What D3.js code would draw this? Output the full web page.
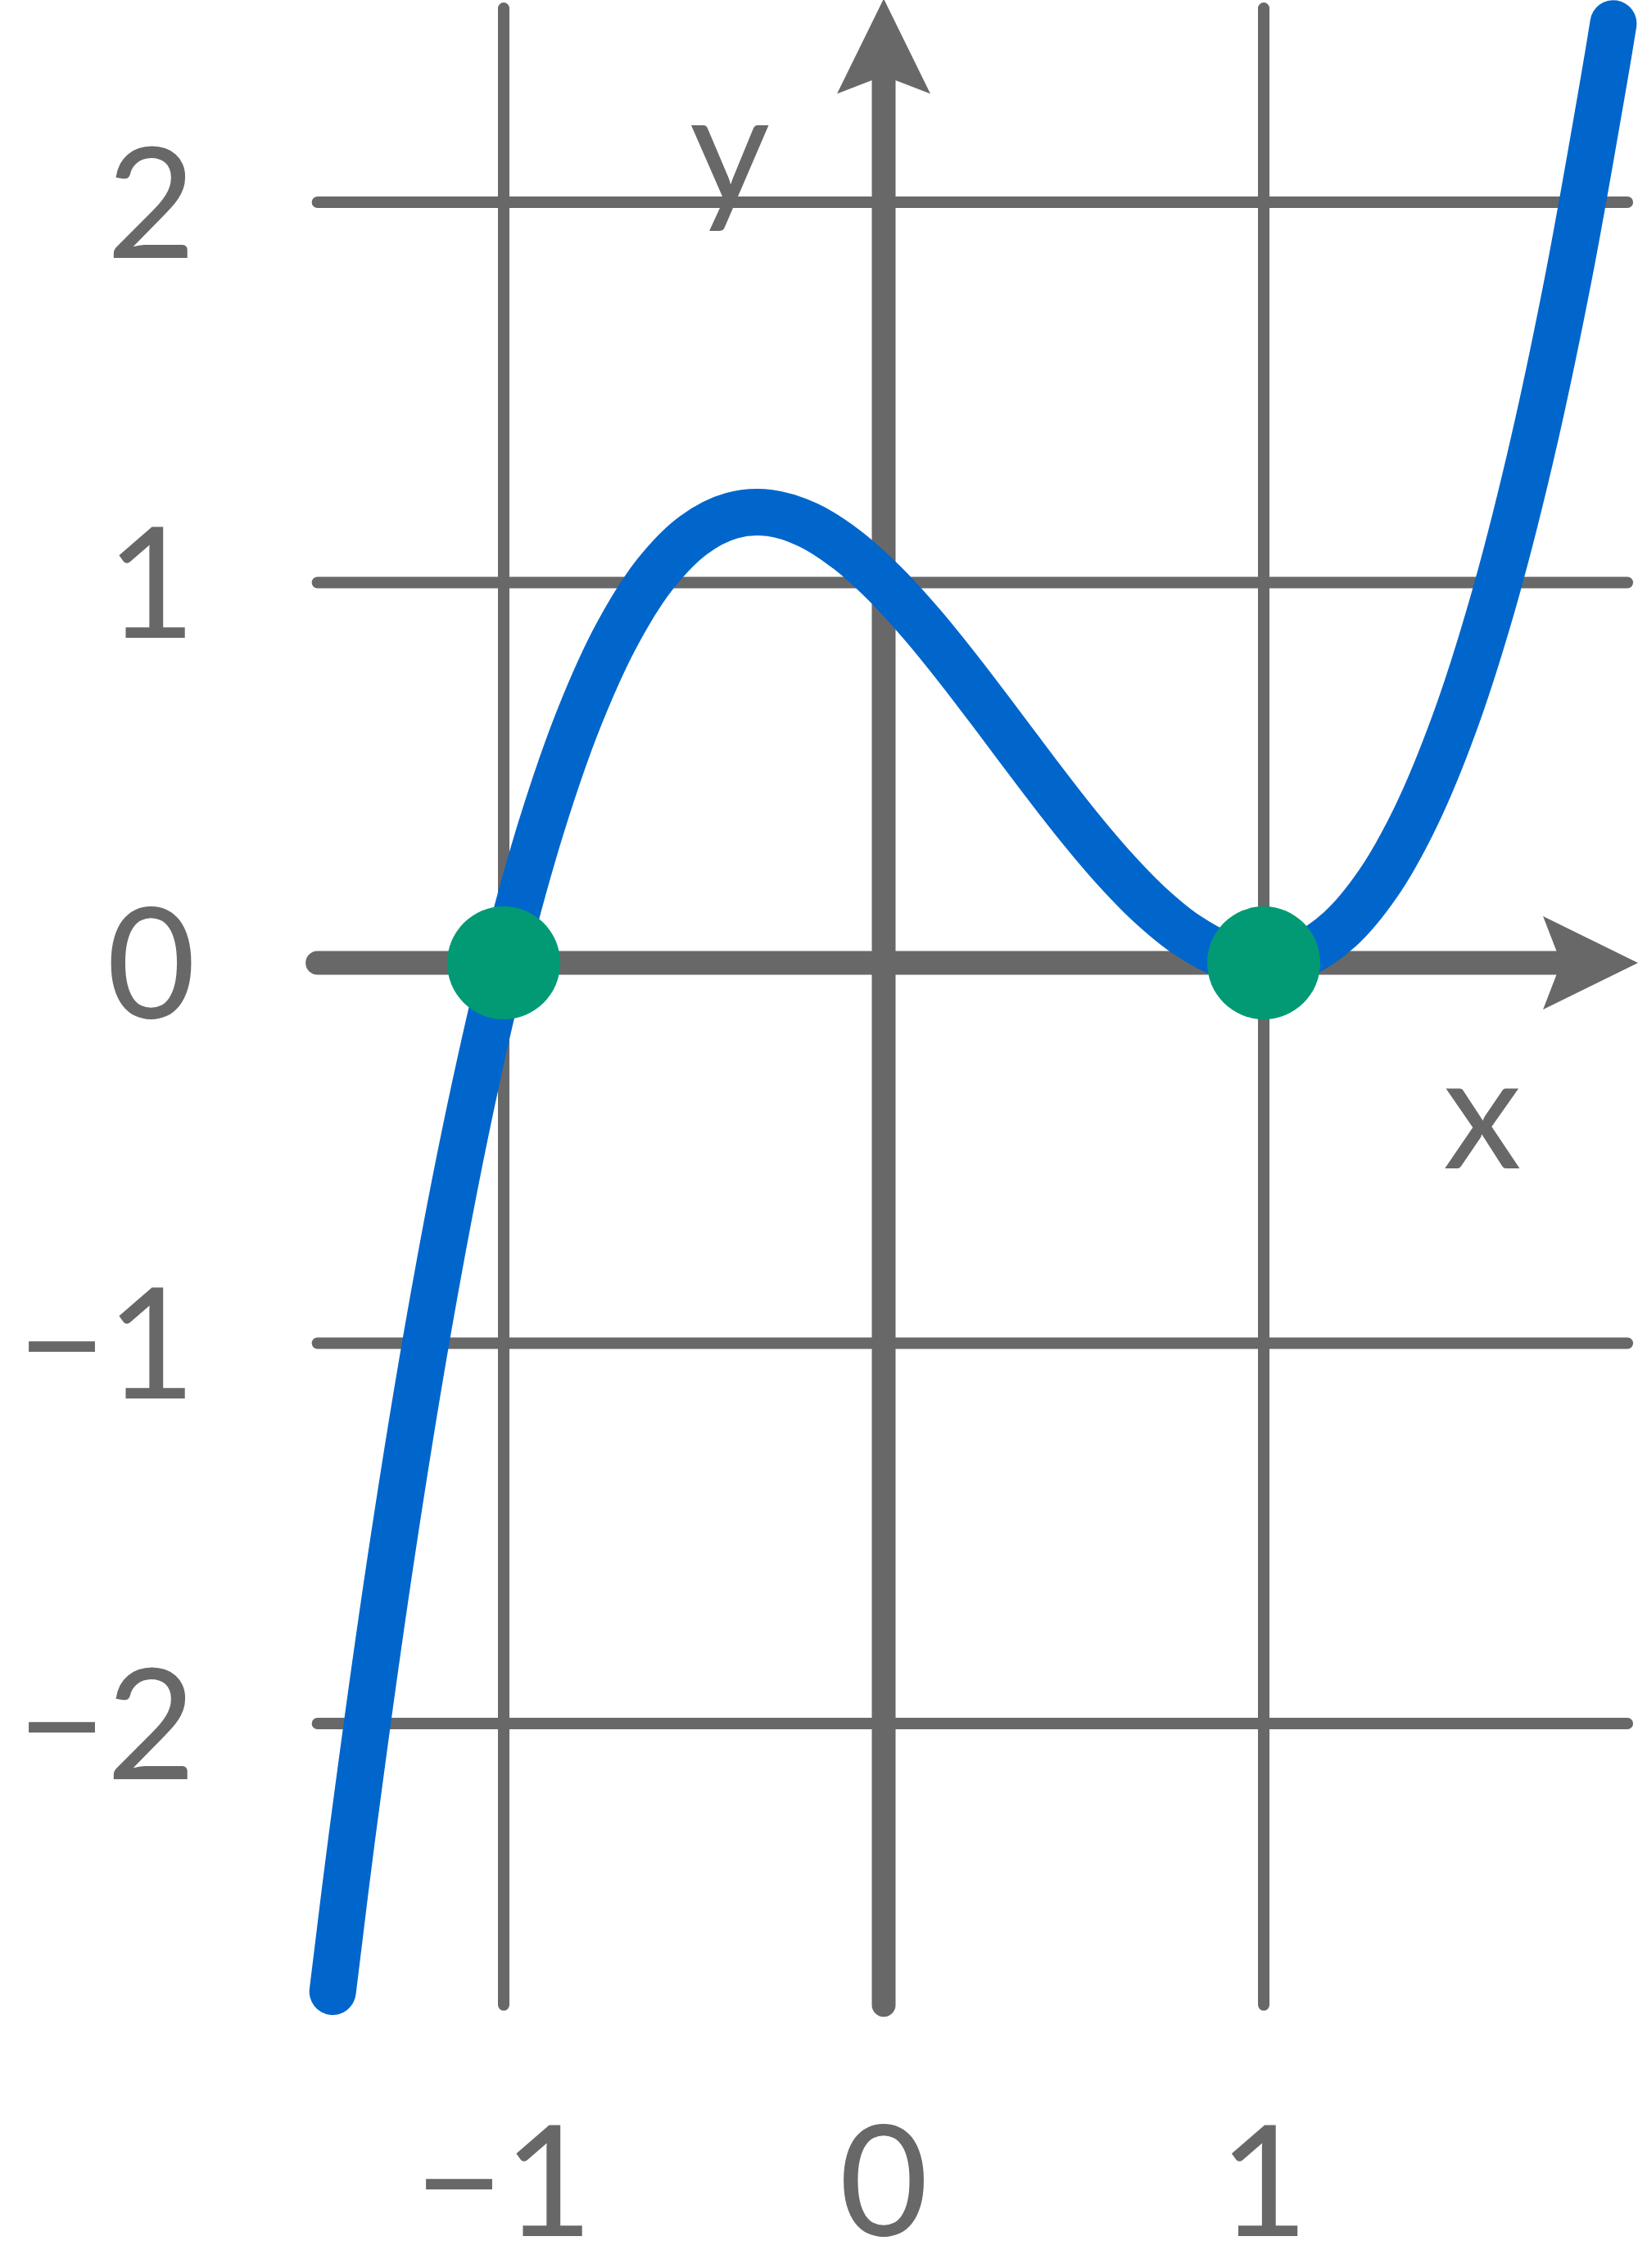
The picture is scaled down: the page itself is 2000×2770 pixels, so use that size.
<!DOCTYPE html>
<html>
<head>
<meta charset="utf-8">
<script src="https://cdn.jsdelivr.net/npm/d3@7"></script>
<style>
  html, body { margin: 0; padding: 0; background: #ffffff; }
  svg { display: block; }
</style>
</head>
<body>
<svg id="chart" width="2000" height="2770"></svg>
<script>
// ---- data ----
const xTicks = [-1, 0, 1];
const yTicks = [-2, -1, 0, 1, 2];
const xTickLabels = ["\u22121", "0", "1"];
const yTickLabels = ["\u22122", "\u22121", "0", "1", "2"];
const curveX = [-1.45, -1.4, -1.3, -1.2, -1.1, -1.0, -0.9, -0.8, -0.7, -0.6, -0.5, -0.4, -0.3, -0.2, -0.1,
                0.0, 0.1, 0.2, 0.3, 0.4, 0.5, 0.6, 0.7, 0.8, 0.9, 1.0, 1.1, 1.2, 1.3, 1.4, 1.5, 1.6, 1.7, 1.8, 1.9, 1.92];
const curveY = [-2.705, -2.304, -1.587, -0.968, -0.441, 0.000, 0.361, 0.648, 0.867, 1.024, 1.125, 1.176, 1.183, 1.152, 1.089,
                1.000, 0.891, 0.768, 0.637, 0.504, 0.375, 0.256, 0.153, 0.072, 0.019, 0.000, 0.021, 0.088, 0.207, 0.384, 0.625, 0.936, 1.323, 1.792, 2.349, 2.470];
const rootX = [-1, 1];
const rootY = [0, 0];
const gridXExtent = [-1.49, 1.957];
const gridYExtent = [-2.74, 2.51];
const axisXTip = 1.985;
const axisYTip = 2.535;
const axisNames = ["x", "y"];

// ---- scales ----
const x = d3.scaleLinear().domain([-1, 1]).range([615, 1543]);
const y = d3.scaleLinear().domain([-2, 2]).range([2105, 247]);

const gray = "#686868";
const blue = "#0066cc";
const green = "#029a74";
const font = "Lato, 'Open Sans', sans-serif";

const svg = d3.select("#chart");
svg.append("rect").attr("width", 2000).attr("height", 2770).attr("fill", "#fff");

// horizontal gridlines
svg.append("g").selectAll("line").data(yTicks.filter(d => d !== 0)).join("line")
  .attr("x1", x(gridXExtent[0])).attr("x2", x(gridXExtent[1]))
  .attr("y1", d => y(d)).attr("y2", d => y(d))
  .attr("stroke", gray).attr("stroke-width", 14).attr("stroke-linecap", "round");

// vertical gridlines
svg.append("g").selectAll("line").data(xTicks.filter(d => d !== 0)).join("line")
  .attr("x1", d => x(d)).attr("x2", d => x(d))
  .attr("y1", y(gridYExtent[1])).attr("y2", y(gridYExtent[0]))
  .attr("stroke", gray).attr("stroke-width", 14).attr("stroke-linecap", "round");

// axes
const ax = svg.append("g");
ax.append("line")
  .attr("x1", x(gridXExtent[0])).attr("x2", x(axisXTip) - 60)
  .attr("y1", y(0)).attr("y2", y(0))
  .attr("stroke", gray).attr("stroke-width", 29).attr("stroke-linecap", "round");
ax.append("line")
  .attr("x1", x(0)).attr("x2", x(0))
  .attr("y1", y(gridYExtent[0])).attr("y2", y(axisYTip) + 60)
  .attr("stroke", gray).attr("stroke-width", 29).attr("stroke-linecap", "round");

// arrowheads
const xt = [x(axisXTip), y(0)];
ax.append("path")
  .attr("d", `M${xt[0]},${xt[1]} L${xt[0]-116},${xt[1]-57} L${xt[0]-94},${xt[1]} L${xt[0]-116},${xt[1]+57} Z`)
  .attr("fill", gray);
const yt = [x(0), y(axisYTip)];
ax.append("path")
  .attr("d", `M${yt[0]},${yt[1]} L${yt[0]-57},${yt[1]+116} L${yt[0]},${yt[1]+94} L${yt[0]+57},${yt[1]+116} Z`)
  .attr("fill", gray);

// tick labels
svg.append("g").selectAll("text").data(yTicks).join("text")
  .attr("x", 239).attr("y", d => y(d))
  .attr("dy", "0.36em")
  .attr("text-anchor", "end")
  .attr("font-family", font).attr("font-size", 188).attr("fill", gray)
  .text((d, i) => yTickLabels[i]);

svg.append("g").selectAll("text").data(xTicks).join("text")
  .attr("x", d => x(d)).attr("y", 2731)
  .attr("text-anchor", "middle")
  .attr("font-family", font).attr("font-size", 188).attr("fill", gray)
  .text((d, i) => xTickLabels[i]);

// axis names
svg.append("text").attr("x", x(1.575)).attr("y", y(-0.54))
  .attr("text-anchor", "middle").attr("font-family", font).attr("font-size", 192).attr("fill", gray)
  .text(axisNames[0]);
svg.append("text").attr("x", x(-0.405)).attr("y", y(1.995))
  .attr("text-anchor", "middle").attr("font-family", font).attr("font-size", 190).attr("fill", gray)
  .text(axisNames[1]);

// curve
const pts = curveX.map((v, i) => [v, curveY[i]]);
const line = d3.line().x(d => x(d[0])).y(d => y(d[1])).curve(d3.curveCatmullRom.alpha(0.5));
svg.append("path").datum(pts)
  .attr("d", line)
  .attr("fill", "none").attr("stroke", blue).attr("stroke-width", 57)
  .attr("stroke-linecap", "round").attr("stroke-linejoin", "round");

// roots
svg.append("g").selectAll("circle").data(rootX).join("circle")
  .attr("cx", d => x(d)).attr("cy", (d, i) => y(rootY[i]))
  .attr("r", 69).attr("fill", green);
</script>
</body>
</html>
